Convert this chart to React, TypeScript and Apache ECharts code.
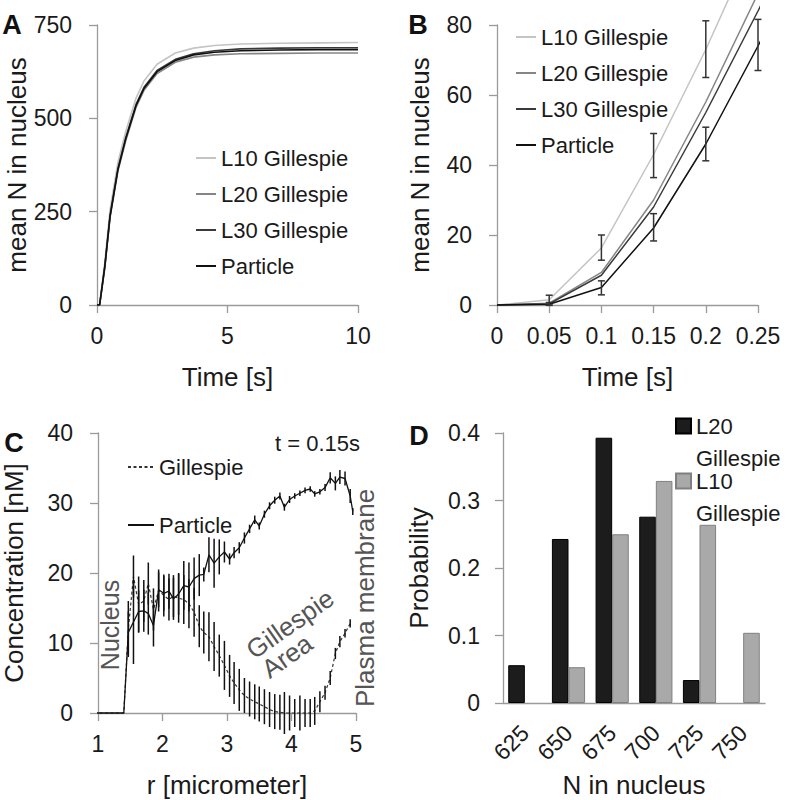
import React, { useEffect, useRef } from 'react';
import * as echarts from 'echarts';

const FONT = '"Liberation Sans", Arial, Helvetica, sans-serif';
const TXT = '#1a1a1a';
const AX = '#9a9a9a';
const ANNO = '#555555';

// ---------- Panel A: mean N in nucleus vs time (0-10 s) ----------
const tA = [0, 0.1, 0.3, 0.5, 0.8, 1.1, 1.5, 1.8, 2.3, 3, 3.7, 4.5, 5.5, 7, 8.5, 10];
const aL10 = [0, 2, 115, 255, 382, 465, 555, 600, 645, 675, 688, 695, 699, 701, 702, 703];
const aL20 = [0, 0, 100, 234, 358, 440, 530, 575, 620, 650, 664, 670, 673, 674, 675, 675];
const aL30 = [0, 0, 105, 240, 365, 448, 538, 583, 628, 658, 673, 681, 686, 688, 689, 689];
const aParticle = [0, 0, 103, 237, 362, 445, 535, 580, 625, 655, 670, 677, 681, 683, 684, 684];

// ---------- Panel B: early times ----------
const tB = [0, 0.05, 0.1, 0.15, 0.2, 0.25, 0.3];
const bL10 = [0, 1.5, 16.3, 43, 73, 106, 140];
const bL20 = [0, 0.5, 9.3, 30, 58, 89, 121];
const bL30 = [0, 0.3, 8.5, 28, 55, 84, 114];
const bParticle = [0, 0.2, 5, 22, 46, 74, 103];
// error bars: [time, centre, half-width]
const bErrL10 = [[0.05, 1.4, 1.4], [0.1, 16.4, 3.6], [0.15, 42.7, 6.3], [0.2, 73.1, 8.1]];
const bErrParticle = [[0.05, 0.3, 0.4], [0.1, 4.9, 2.0], [0.15, 22.2, 3.9], [0.2, 46.0, 4.8], [0.25, 74.3, 7.3]];

// ---------- Panel C: concentration profile at t = 0.15 s ----------
const rC = [0, 1.40, 1.47, 1.55, 1.63, 1.71, 1.78, 1.86, 1.94, 2.02, 2.10, 2.17, 2.25, 2.33, 2.41, 2.49,
  2.57, 2.64, 2.72, 2.80, 2.88, 2.96, 3.04, 3.11, 3.19, 3.27, 3.35, 3.43, 3.50, 3.58, 3.66, 3.74,
  3.82, 3.89, 3.97, 4.05, 4.13, 4.21, 4.29, 4.36, 4.44, 4.52, 4.60, 4.68, 4.75, 4.83, 4.91, 4.95];
const cParticle = [0, 0, 11.5, 13.0, 14.5, 14.6, 14.2, 12.5, 17.6, 17.1, 17.4, 16.3, 17.0, 18.2, 18.0, 19.2,
  19.7, 19.8, 22.6, 21.4, 22.3, 23.0, 22.0, 22.9, 23.6, 25.0, 26.3, 27.6, 26.7, 28.4, 29.6, 30.4,
  31.0, 29.4, 30.5, 31.0, 31.4, 31.8, 32.0, 31.3, 31.6, 32.2, 33.6, 32.8, 33.7, 33.5, 31.0, 28.8];
const cParticleErr = [0, 0, 3, 6, 3, 3, 3, 3, 2.5, 2.5, 2.5, 3, 3, 3.5, 3.5, 3,
  3, 1, 2.5, 3.5, 2.5, 1.5, 0.8, 0.8, 0.8, 0.8, 0.6, 0.6, 0.5, 0.5, 0.5, 0.5,
  0.5, 0.5, 0.5, 0.4, 0.4, 0.4, 0.4, 0.4, 0.4, 0.5, 0.8, 1, 1, 1, 1, 0.5];
const cGillespie = [0, 0, 12, 19.5, 15.5, 16.0, 18.5, 14.8, 17.5, 16.8, 16.2, 16.7, 16.4, 16.2, 15.6, 14.4,
  12.4, 11.5, 10.9, 9.5, 8.2, 6.8, 5.3, 4.3, 3.3, 2.5, 2.0, 1.6, 1.3, 0.9, 0.5, 0.2,
  0.1, 0, 0, 0, 0, 0, 0, 0.3, 1.6, 2.9, 5.0, 8.5, 10.2, 11.4, 12.8, null];
const cGillespieErr = [0, 0, 4, 3, 4, 3, 3, 3, 3, 3, 3, 3, 3.5, 3.5, 3.5, 3.5,
  3, 3, 3.5, 3.5, 3, 3.5, 3, 3, 3, 2.5, 2.5, 2.5, 2.5, 2.5, 2.5, 2.5,
  2.5, 3, 2.5, 2, 2.5, 2, 2, 2, 1.5, 1, 1, 0.8, 0.8, 0.6, 0.6, null];

// ---------- Panel D: histogram ----------
const dCats = ['625', '650', '675', '700', '725', '750'];
const dL20 = [0.056, 0.243, 0.393, 0.276, 0.034, 0];
const dL10 = [0, 0.053, 0.250, 0.329, 0.264, 0.104];

const seriesNames = ['L10 Gillespie', 'L20 Gillespie', 'L30 Gillespie', 'Particle'];
const lineColors = ['#c4c4c4', '#858585', '#3a3a3a', '#111111'];

const pairs = (xs: number[], ys: (number | null)[]) =>
  xs.map((x, i) => [x, ys[i]]).filter((p) => p[1] !== null && p[1] !== undefined);
const errTriples = (xs: number[], ys: (number | null)[], es: (number | null)[]) =>
  xs.map((x, i) => [x, ys[i], es[i]]).filter((p) => p[1] !== null && p[2] !== null && (p[2] as number) > 0);
const emptyZero = (vs: number[]) => vs.map((v) => (v === 0 ? null : v));

const axisBase = (extra: any) => ({
  type: 'value',
  nameLocation: 'middle',
  axisLine: { show: true, lineStyle: { color: AX, width: 1.3 } },
  axisTick: { show: true, inside: false, length: 8, lineStyle: { color: AX, width: 1.3 } },
  splitLine: { show: false },
  nameTextStyle: { color: TXT, fontSize: 26, fontFamily: FONT },
  ...extra,
  axisLabel: { color: TXT, fontSize: 23, fontFamily: FONT, ...(extra.axisLabel || {}) },
});

const legendText = { fontSize: 22, color: TXT, fontFamily: FONT, lineHeight: 24 };

function errRender(withCaps: boolean, color: string) {
  return (params: any, api: any) => {
    const x = api.value(0);
    const m = api.value(1);
    const e = api.value(2);
    const lo = api.coord([x, m - e]);
    const hi = api.coord([x, m + e]);
    const style = { stroke: color, lineWidth: 1.5 };
    const children: any[] = [
      { type: 'line', shape: { x1: lo[0], y1: lo[1], x2: hi[0], y2: hi[1] }, style },
    ];
    if (withCaps) {
      children.push({ type: 'line', shape: { x1: lo[0] - 3.5, y1: lo[1], x2: lo[0] + 3.5, y2: lo[1] }, style });
      children.push({ type: 'line', shape: { x1: hi[0] - 3.5, y1: hi[1], x2: hi[0] + 3.5, y2: hi[1] }, style });
    }
    return { type: 'group', children };
  };
}

function buildOption(): any {
  const aData = [aL10, aL20, aL30, aParticle];
  const bData = [bL10, bL20, bL30, bParticle];
  const series: any[] = [];
  seriesNames.forEach((n, i) => {
    series.push({
      name: n, type: 'line', xAxisIndex: 0, yAxisIndex: 0, symbol: 'none',
      data: pairs(tA, aData[i]), lineStyle: { color: lineColors[i], width: 1.6 },
      itemStyle: { color: lineColors[i] }, z: 2 + i,
    });
  });
  seriesNames.forEach((n, i) => {
    series.push({
      name: n, type: 'line', xAxisIndex: 1, yAxisIndex: 1, symbol: 'none', clip: false,
      data: pairs(tB, bData[i]), lineStyle: { color: lineColors[i], width: 1.5 },
      itemStyle: { color: lineColors[i] }, z: 2 + i,
    });
  });
  series.push({
    type: 'custom', name: 'errB1', xAxisIndex: 1, yAxisIndex: 1, data: bErrL10,
    renderItem: errRender(true, '#333'), z: 10, silent: true,
  });
  series.push({
    type: 'custom', name: 'errB2', xAxisIndex: 1, yAxisIndex: 1, data: bErrParticle,
    renderItem: errRender(true, '#333'), z: 10, silent: true,
  });
  series.push({
    name: 'Gillespie', type: 'line', xAxisIndex: 2, yAxisIndex: 2, symbol: 'none', clip: false,
    data: pairs(rC, cGillespie), lineStyle: { color: '#333', width: 1.2, type: [3, 2.5] },
    itemStyle: { color: '#333' }, z: 3,
  });
  series.push({
    name: 'Particle ', type: 'line', xAxisIndex: 2, yAxisIndex: 2, symbol: 'none', clip: false,
    data: pairs(rC, cParticle), lineStyle: { color: '#111', width: 1.3 },
    itemStyle: { color: '#111' }, z: 4,
  });
  series.push({
    type: 'custom', name: 'errC1', xAxisIndex: 2, yAxisIndex: 2, data: errTriples(rC, cGillespie, cGillespieErr),
    renderItem: errRender(false, '#111'), z: 5, silent: true,
  });
  series.push({
    type: 'custom', name: 'errC2', xAxisIndex: 2, yAxisIndex: 2, data: errTriples(rC, cParticle, cParticleErr),
    renderItem: errRender(false, '#111'), z: 5, silent: true,
  });
  series.push({
    name: 'L20\nGillespie', type: 'bar', xAxisIndex: 3, yAxisIndex: 3, data: emptyZero(dL20),
    barGap: '0%', barCategoryGap: '24%',
    itemStyle: { color: '#1c1c1c', borderColor: '#000', borderWidth: 1 },
  });
  series.push({
    name: 'L10\nGillespie', type: 'bar', xAxisIndex: 3, yAxisIndex: 3, data: emptyZero(dL10),
    barGap: '0%', barCategoryGap: '24%',
    itemStyle: { color: '#a9a9a9', borderColor: '#808080', borderWidth: 1 },
  });

  const dIcon = 'path://M0,0H15V15H0ZM0,47L0,47';
  const lineLegend = {
    orient: 'vertical', padding: 0, itemHeight: 14, selectedMode: false,
    textStyle: legendText, itemStyle: { opacity: 0, borderWidth: 0 },
  };

  return {
    animation: false,
    backgroundColor: '#ffffff',
    textStyle: { fontFamily: FONT },
    grid: [
      { left: 97, top: 25, width: 261, height: 280 },
      { left: 497, top: 25, width: 261, height: 280 },
      { left: 97, top: 433, width: 259, height: 280 },
      { left: 503, top: 433, width: 262, height: 270 },
    ],
    xAxis: [
      axisBase({ gridIndex: 0, min: 0, max: 10, interval: 5, name: 'Time [s]', nameGap: 59, axisLabel: { margin: 19 } }),
      axisBase({
        gridIndex: 1, min: 0, max: 0.25, interval: 0.05, name: 'Time [s]', nameGap: 59,
        axisLabel: { margin: 19, formatter: (v: number) => String(+v.toFixed(2)) },
      }),
      axisBase({ gridIndex: 2, min: 1, max: 5, interval: 1, name: 'r [micrometer]', nameGap: 59, axisLabel: { margin: 19 } }),
      {
        type: 'category', gridIndex: 3, data: dCats, name: 'N in nucleus', nameLocation: 'middle', nameGap: 69,
        axisLine: { show: true, lineStyle: { color: AX, width: 1.3 } },
        axisTick: { show: false },
        axisLabel: { color: TXT, fontSize: 23, fontFamily: FONT, rotate: 45, margin: 26 },
        nameTextStyle: { color: TXT, fontSize: 26, fontFamily: FONT },
      },
    ],
    yAxis: [
      axisBase({ gridIndex: 0, min: 0, max: 750, interval: 250, name: 'mean N in nucleus', nameGap: 67, axisLabel: { margin: 25 } }),
      axisBase({ gridIndex: 1, min: 0, max: 80, interval: 20, name: 'mean N in nucleus', nameGap: 64, axisLabel: { margin: 25 } }),
      axisBase({ gridIndex: 2, min: 0, max: 40, interval: 10, name: 'Concentration [nM]', nameGap: 71, axisLabel: { margin: 25 } }),
      axisBase({ gridIndex: 3, min: 0, max: 0.4, interval: 0.1, name: 'Probability', nameGap: 71, axisLabel: { margin: 23 } }),
    ],
    legend: [
      { ...lineLegend, left: 195, top: 146, itemGap: 12, itemWidth: 20, data: seriesNames },
      { ...lineLegend, left: 515, top: 25, itemGap: 12, itemWidth: 20, data: seriesNames },
      {
        ...lineLegend, left: 127, top: 455, itemGap: 34, itemWidth: 26,
        data: ['Gillespie', 'Particle '], formatter: (n: string) => n.trim(),
      },
      {
        orient: 'vertical', left: 675, top: 410, padding: 0, itemGap: -9, itemWidth: 15, itemHeight: 47,
        selectedMode: false,
        data: [{ name: 'L20\nGillespie', icon: dIcon }, { name: 'L10\nGillespie', icon: dIcon }],
        textStyle: { ...legendText, lineHeight: 32 },
      },
    ],
    graphic: [
      { type: 'text', x: 12, y: 25, style: { text: 'A', font: `bold 27px ${FONT}`, fill: '#111', align: 'center', verticalAlign: 'middle' } },
      { type: 'text', x: 418, y: 25, style: { text: 'B', font: `bold 27px ${FONT}`, fill: '#111', align: 'center', verticalAlign: 'middle' } },
      { type: 'text', x: 14, y: 443, style: { text: 'C', font: `bold 27px ${FONT}`, fill: '#111', align: 'center', verticalAlign: 'middle' } },
      { type: 'text', x: 419, y: 436, style: { text: 'D', font: `bold 27px ${FONT}`, fill: '#111', align: 'center', verticalAlign: 'middle' } },
      { type: 'text', x: 360, y: 443, style: { text: 't = 0.15s', font: `22px ${FONT}`, fill: TXT, align: 'right', verticalAlign: 'middle' } },
      { type: 'text', x: 110, y: 625, rotation: Math.PI / 2, style: { text: 'Nucleus', font: `25px ${FONT}`, fill: ANNO, align: 'center', verticalAlign: 'middle' } },
      { type: 'text', x: 365, y: 598, rotation: Math.PI / 2, style: { text: 'Plasma membrane', font: `26px ${FONT}`, fill: ANNO, align: 'center', verticalAlign: 'middle' } },
      { type: 'text', x: 290, y: 624, rotation: (35 * Math.PI) / 180, style: { text: 'Gillespie', font: `26px ${FONT}`, fill: ANNO, align: 'center', verticalAlign: 'middle' } },
      { type: 'text', x: 287, y: 656, rotation: (35 * Math.PI) / 180, style: { text: 'Area', font: `26px ${FONT}`, fill: ANNO, align: 'center', verticalAlign: 'middle' } },
    ],
    series,
  };
}

export default function App() {
  const ref = useRef<HTMLDivElement>(null);
  useEffect(() => {
    if (!ref.current) return;
    const chart = echarts.init(ref.current, null, { renderer: 'svg' });
    chart.setOption(buildOption());
    return () => chart.dispose();
  }, []);
  return (
    <div
      ref={ref}
      style={{ position: 'absolute', left: 0, top: 0, width: 787, height: 800, background: '#fff' }}
    />
  );
}
